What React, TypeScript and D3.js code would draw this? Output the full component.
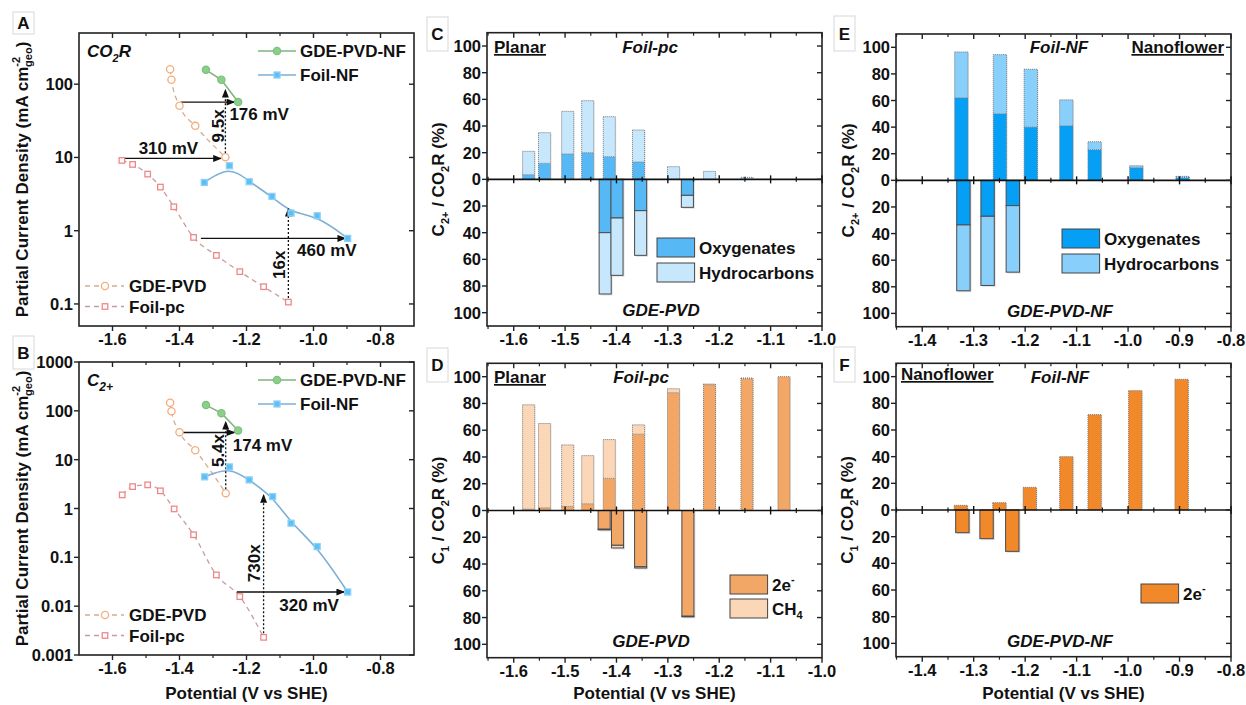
import * as d3 from "d3";

const FONT = "'Liberation Sans', Arial, Helvetica, sans-serif";

type Pt = { v: number; j: number };
type Arrow = { v1: number; j1: number; v2: number; j2: number; dotted?: boolean };
type Note = { t: string; v: number; j: number; rot?: boolean; anchor?: string };
type Bar = { v: number; a: number; b: number };

// ---------- A : CO2R partial current density ----------
const aGdePvd: Pt[] = [
  { v: -1.428, j: 160 }, { v: -1.424, j: 115 }, { v: -1.4, j: 50.7 }, { v: -1.353, j: 27 }, { v: -1.263, j: 10.1 },
];
const aGdePvdNf: Pt[] = [{ v: -1.321, j: 157 }, { v: -1.275, j: 115 }, { v: -1.225, j: 57 }];
const aFoilNf: Pt[] = [
  { v: -1.326, j: 4.56 }, { v: -1.251, j: 7.7 }, { v: -1.192, j: 4.66 }, { v: -1.124, j: 2.94 },
  { v: -1.067, j: 1.74 }, { v: -0.989, j: 1.6 }, { v: -0.898, j: 0.785 },
];
const aFoilPc: Pt[] = [
  { v: -1.572, j: 9.1 }, { v: -1.54, j: 8.03 }, { v: -1.495, j: 5.93 }, { v: -1.457, j: 3.94 }, { v: -1.417, j: 2.12 },
  { v: -1.358, j: 0.81 }, { v: -1.29, j: 0.46 }, { v: -1.22, j: 0.276 }, { v: -1.149, j: 0.172 }, { v: -1.075, j: 0.106 },
];
const aArrows: Arrow[] = [
  { v1: -1.396, j1: 57, v2: -1.236, j2: 57 },
  { v1: -1.565, j1: 9.7, v2: -1.276, j2: 9.7 },
  { v1: -1.336, j1: 0.785, v2: -0.905, j2: 0.785 },
  { v1: -1.263, j1: 10.1, v2: -1.263, j2: 84, dotted: true },
  { v1: -1.075, j1: 0.106, v2: -1.075, j2: 2.0, dotted: true },
];
const aNotes: Note[] = [
  { t: "9.5x", v: -1.286, j: 27, rot: true },
  { t: "176 mV", v: -1.251, j: 32.6, anchor: "start" },
  { t: "310 mV", v: -1.433, j: 11.2 },
  { t: "16x", v: -1.104, j: 0.343, rot: true },
  { t: "460 mV", v: -1.049, j: 0.447, anchor: "start" },
];

// ---------- B : C2+ partial current density ----------
const bGdePvd: Pt[] = [
  { v: -1.428, j: 146 }, { v: -1.424, j: 98 }, { v: -1.4, j: 36.6 }, { v: -1.353, j: 15.6 }, { v: -1.262, j: 2.06 },
];
const bGdePvdNf: Pt[] = [{ v: -1.321, j: 131 }, { v: -1.275, j: 89.6 }, { v: -1.225, j: 39.5 }];
const bFoilNf: Pt[] = [
  { v: -1.325, j: 4.45 }, { v: -1.251, j: 7.1 }, { v: -1.192, j: 3.85 }, { v: -1.122, j: 1.75 },
  { v: -1.067, j: 0.5 }, { v: -0.989, j: 0.166 }, { v: -0.898, j: 0.0195 },
];
const bFoilPc: Pt[] = [
  { v: -1.571, j: 1.9 }, { v: -1.54, j: 2.81 }, { v: -1.495, j: 3.05 }, { v: -1.457, j: 2.3 }, { v: -1.416, j: 0.98 },
  { v: -1.358, j: 0.29 }, { v: -1.29, j: 0.0436 }, { v: -1.22, j: 0.0157 }, { v: -1.149, j: 0.0023 },
];
const bArrows: Arrow[] = [
  { v1: -1.396, j1: 36, v2: -1.236, j2: 36 },
  { v1: -1.229, j1: 0.0195, v2: -0.908, j2: 0.0195 },
  { v1: -1.262, j1: 2.06, v2: -1.262, j2: 60, dotted: true },
  { v1: -1.149, j1: 0.0023, v2: -1.149, j2: 1.9, dotted: true },
];
const bNotes: Note[] = [
  { t: "5.4x", v: -1.286, j: 15.4, rot: true },
  { t: "174 mV", v: -1.241, j: 15.4, anchor: "start" },
  { t: "730x", v: -1.177, j: 0.0755, rot: true },
  { t: "320 mV", v: -1.102, j: 0.0081, anchor: "start" },
];

// ---------- C : C2+ selectivity, planar (a = oxygenates, b = hydrocarbons) ----------
const cFoilPc: Bar[] = [
  { v: -1.571, a: 3.5, b: 17.5 }, { v: -1.54, a: 12, b: 23 }, { v: -1.495, a: 19, b: 32 },
  { v: -1.456, a: 20, b: 39 }, { v: -1.414, a: 17, b: 30 }, { v: -1.357, a: 13, b: 24 },
  { v: -1.289, a: 0, b: 9.5 }, { v: -1.219, a: 0, b: 6 }, { v: -1.146, a: 0, b: 1.5 },
];
const cGdePvd: Bar[] = [
  { v: -1.422, a: 40, b: 46 }, { v: -1.399, a: 29, b: 43 }, { v: -1.353, a: 23.5, b: 33.5 }, { v: -1.262, a: 12, b: 9 },
];

// ---------- D : C1 selectivity, planar (a = 2e-, b = CH4) ----------
const dFoilPc: Bar[] = [
  { v: -1.571, a: 1, b: 78 }, { v: -1.54, a: 2, b: 63 }, { v: -1.495, a: 3, b: 46 }, { v: -1.456, a: 5, b: 36 },
  { v: -1.414, a: 24, b: 29 }, { v: -1.357, a: 57, b: 7 }, { v: -1.289, a: 88, b: 3 }, { v: -1.219, a: 94, b: 0.5 },
  { v: -1.146, a: 98.5, b: 0.5 }, { v: -1.074, a: 100, b: 0 },
];
const dGdePvd: Bar[] = [
  { v: -1.424, a: 14, b: 0.5 }, { v: -1.398, a: 26, b: 2 }, { v: -1.353, a: 42, b: 1 }, { v: -1.261, a: 79, b: 0.5 },
];

// ---------- E : C2+ selectivity, nanoflower ----------
const eFoilNf: Bar[] = [
  { v: -1.324, a: 62, b: 34.5 }, { v: -1.249, a: 50, b: 44.5 }, { v: -1.189, a: 40, b: 43.5 },
  { v: -1.12, a: 41, b: 19.5 }, { v: -1.065, a: 23, b: 6 }, { v: -0.984, a: 9.5, b: 1.5 }, { v: -0.894, a: 2, b: 1 },
];
const eGdePvdNf: Bar[] = [{ v: -1.32, a: 33.5, b: 49.5 }, { v: -1.273, a: 27, b: 52 }, { v: -1.224, a: 19, b: 50 }];

// ---------- F : C1 selectivity, nanoflower ----------
const fFoilNf: Bar[] = [
  { v: -1.325, a: 3.5, b: 0 }, { v: -1.25, a: 5.5, b: 0 }, { v: -1.191, a: 17, b: 0 }, { v: -1.12, a: 40, b: 0 },
  { v: -1.065, a: 71.5, b: 0 }, { v: -0.986, a: 89.5, b: 0 }, { v: -0.896, a: 98, b: 0 },
];
const fGdePvdNf: Bar[] = [{ v: -1.322, a: 17, b: 0 }, { v: -1.275, a: 21.5, b: 0 }, { v: -1.225, a: 31, b: 0 }];

const fmtV = (v: number) => (v < 0 ? "-" : "") + Math.abs(v).toFixed(1);
const INK = "#111";

function Frame({ x0, x1, y0, y1 }: { x0: number; x1: number; y0: number; y1: number }) {
  return <rect x={x0} y={y0} width={x1 - x0} height={y1 - y0} fill="none" stroke="#222" strokeWidth={1.6} />;
}

function PanelTag({ x, y, w, h, t }: { x: number; y: number; w: number; h: number; t: string }) {
  return (
    <g>
      <rect x={x} y={y} width={w} height={h} fill="#fff" stroke="#d8d8d8" strokeWidth={1} />
      <text x={x + w / 2} y={y + h / 2 + 6} textAnchor="middle" fontSize={17} fontWeight="bold" fill={INK}>{t}</text>
    </g>
  );
}

function XAxis({ x, y0, y1, majors, minors, title }: any) {
  return (
    <g>
      {majors.map((v: number) => (
        <g key={"M" + v}>
          <line x1={x(v)} x2={x(v)} y1={y1} y2={y1 + 5} stroke="#222" strokeWidth={1.4} />
          <line x1={x(v)} x2={x(v)} y1={y0} y2={y0 + 5} stroke="#222" strokeWidth={1.4} />
          <text x={x(v)} y={y1 + 19} textAnchor="middle" fontSize={16.5} fontWeight="bold" fill={INK}>{fmtV(v)}</text>
        </g>
      ))}
      {minors.map((v: number) => (
        <g key={"m" + v}>
          <line x1={x(v)} x2={x(v)} y1={y1} y2={y1 + 3} stroke="#222" strokeWidth={1.2} />
          <line x1={x(v)} x2={x(v)} y1={y0} y2={y0 + 3} stroke="#222" strokeWidth={1.2} />
        </g>
      ))}
      {title && (
        <text x={(x.range()[0] + x.range()[1]) / 2} y={699} textAnchor="middle" fontSize={17} fontWeight="bold" fill={INK}>
          Potential (V vs SHE)
        </text>
      )}
    </g>
  );
}

function LogPanel({ top, bottom, domain, ticks, gdePvd, gdePvdNf, foilNf, foilPc, arrows, notes, tag, kind, xTitle }: any) {
  const x = d3.scaleLinear().domain([-1.7, -0.7]).range([79, 414]);
  const y = d3.scaleLog().domain(domain).range([bottom, top]);
  const mono = d3.line<Pt>().x((d) => x(d.v)).y((d) => y(d.j)).curve(d3.curveMonotoneX);
  const basis = d3.line<Pt>().x((d) => x(d.v)).y((d) => y(d.j)).curve(d3.curveBasis);
  const lin = d3.line<Pt>().x((d) => x(d.v)).y((d) => y(d.j));
  const cOr = "#f3ae7c", cOrL = "#d4ad8e", cPk = "#ee8888", cPkL = "#c89c9c";
  const cGr = "#8ccf8c", cGrL = "#7fb47f", cBl = "#5cbff6", cBlL = "#7eafd6";
  const circ = (cx: number, cy: number, fill: string, stroke: string, k: string) => (
    <circle key={k} cx={cx} cy={cy} r={3.6} fill={fill} stroke={stroke} strokeWidth={1.3} />
  );
  const sq = (cx: number, cy: number, fill: string, stroke: string, k: string, s = 6) => (
    <rect key={k} x={cx - s / 2} y={cy - s / 2} width={s} height={s} fill={fill} stroke={stroke} strokeWidth={1.3} />
  );
  const lt1 = top + 18, lt2 = top + 42, lb1 = bottom - 40, lb2 = bottom - 19.5;
  return (
    <g>
      <PanelTag {...tag} />
      <Frame x0={79} x1={414} y0={top} y1={bottom} />
      {ticks.map((t: number) => (
        <g key={t}>
          <line x1={74} x2={79} y1={y(t)} y2={y(t)} stroke="#222" strokeWidth={1.4} />
          <line x1={409} x2={414} y1={y(t)} y2={y(t)} stroke="#222" strokeWidth={1.4} />
          <text x={73} y={y(t) + 6} textAnchor="end" fontSize={16.5} fontWeight="bold" fill={INK}>{d3.format("~g")(t)}</text>
        </g>
      ))}
      <XAxis x={x} y0={top} y1={bottom} majors={[-1.6, -1.4, -1.2, -1.0, -0.8]} minors={[-1.5, -1.3, -1.1, -0.9]} title={xTitle} />
      <text transform={`translate(28,${(top + bottom) / 2}) rotate(-90)`} textAnchor="middle" fontSize={17} fontWeight="bold" fill={INK}>
        Partial Current Density (mA cm
        <tspan fontSize={11} dy={-8}>-2</tspan>
        <tspan fontSize={11} dx={-10} dy={12}>geo</tspan>
        <tspan dy={-4}>)</tspan>
      </text>
      {kind === "co2r" ? (
        <text x={87} y={top + 24} fontSize={17} fontWeight="bold" fontStyle="italic" fill={INK}>
          CO<tspan fontSize={11} dy={5}>2</tspan><tspan dy={-5}>R</tspan>
        </text>
      ) : (
        <text x={87} y={top + 24} fontSize={17} fontWeight="bold" fontStyle="italic" fill={INK}>
          C<tspan fontSize={12} dy={5}>2+</tspan>
        </text>
      )}
      <path d={mono(gdePvd) || ""} fill="none" stroke={cOrL} strokeWidth={1.3} strokeDasharray="5,4" />
      <path d={mono(foilPc) || ""} fill="none" stroke={cPkL} strokeWidth={1.3} strokeDasharray="5,4" />
      <path d={basis(foilNf) || ""} fill="none" stroke={cBlL} strokeWidth={1.6} />
      <path d={lin(gdePvdNf) || ""} fill="none" stroke={cGrL} strokeWidth={1.6} />
      {arrows.map((a: Arrow, i: number) => (
        <line key={"ar" + i} x1={x(a.v1)} y1={y(a.j1)} x2={x(a.v2)} y2={y(a.j2)} stroke="#111" strokeWidth={1.3}
          strokeDasharray={a.dotted ? "2,2" : undefined} markerEnd="url(#arrowHead)" />
      ))}
      {gdePvd.map((d: Pt, i: number) => circ(x(d.v), y(d.j), "#fff", cOr, "o" + i))}
      {foilPc.map((d: Pt, i: number) => sq(x(d.v), y(d.j), "#fff", cPk, "p" + i, 5.5))}
      {foilNf.map((d: Pt, i: number) => sq(x(d.v), y(d.j), cBl, "#8fd0f8", "b" + i))}
      {gdePvdNf.map((d: Pt, i: number) => circ(x(d.v), y(d.j), cGr, "#7cc27c", "g" + i))}
      {notes.map((n: Note, i: number) =>
        n.rot ? (
          <text key={"n" + i} transform={`translate(${x(n.v)},${y(n.j)}) rotate(-90)`} textAnchor="middle" dy={6}
            fontSize={17} fontWeight="bold" fill={INK}>{n.t}</text>
        ) : (
          <text key={"n" + i} x={x(n.v)} y={y(n.j)} textAnchor={n.anchor || "middle"} fontSize={17} fontWeight="bold" fill={INK}>{n.t}</text>
        )
      )}
      {/* legends */}
      <line x1={258} x2={296} y1={lt1} y2={lt1} stroke={cGrL} strokeWidth={1.6} />
      {circ(277, lt1, cGr, "#7cc27c", "lg")}
      <text x={300} y={lt1 + 6} fontSize={17} fontWeight="bold" fill={INK}>GDE-PVD-NF</text>
      <line x1={258} x2={296} y1={lt2} y2={lt2} stroke={cBlL} strokeWidth={1.6} />
      {sq(277, lt2, cBl, "#8fd0f8", "lb")}
      <text x={300} y={lt2 + 6} fontSize={17} fontWeight="bold" fill={INK}>Foil-NF</text>
      <line x1={85} x2={124} y1={lb1} y2={lb1} stroke={cOrL} strokeWidth={1.3} strokeDasharray="5,4" />
      {circ(105, lb1, "#fff", cOr, "lo")}
      <text x={129} y={lb1 + 6} fontSize={17} fontWeight="bold" fill={INK}>GDE-PVD</text>
      <line x1={85} x2={124} y1={lb2} y2={lb2} stroke={cPkL} strokeWidth={1.3} strokeDasharray="5,4" />
      {sq(105, lb2, "#fff", cPk, "lp", 5.5)}
      <text x={129} y={lb2 + 6} fontSize={17} fontWeight="bold" fill={INK}>Foil-pc</text>
    </g>
  );
}

function BarPanel({ top, bottom, xDomain, xRange, majors, minors, up, down, colA, colB, barW, tag, yTitleX, kind,
  texts, legend, xTitle }: any) {
  const x = d3.scaleLinear().domain(xDomain).range(xRange);
  const y = d3.scaleLinear().domain([-110, 110]).range([bottom, top]);
  const [x0, x1] = xRange;
  const w = x(xDomain[0] + barW) - x(xDomain[0]);
  const yt = d3.range(-100, 101, 20);
  return (
    <g>
      <PanelTag {...tag} />
      {up.map((d: Bar, i: number) => (
        <g key={"u" + i}>
          <rect x={x(d.v) - w / 2 + 1} y={y(d.a + d.b) + 1} width={w} height={y(0) - y(d.a + d.b) - 1} fill="#dcdcdc" opacity={0.5} />
          <rect x={x(d.v) - w / 2} y={y(d.a)} width={w} height={y(0) - y(d.a)} fill={colA} />
          <rect x={x(d.v) - w / 2} y={y(d.a + d.b)} width={w} height={y(d.a) - y(d.a + d.b)} fill={colB} />
          <rect x={x(d.v) - w / 2} y={y(d.a + d.b)} width={w} height={y(0) - y(d.a + d.b)} fill="none"
            stroke="#777" strokeWidth={1} strokeDasharray="1,1" />
          {d.a > 0 && d.b > 0 && (
            <line x1={x(d.v) - w / 2} x2={x(d.v) + w / 2} y1={y(d.a)} y2={y(d.a)} stroke="#777" strokeWidth={1} strokeDasharray="1,1" />
          )}
        </g>
      ))}
      {down.map((d: Bar, i: number) => (
        <g key={"d" + i}>
          <rect x={x(d.v) - w / 2 + 1.5} y={y(0)} width={w} height={y(-(d.a + d.b)) - y(0) + 1.5} fill="#d0d0d0" opacity={0.6} />
          <rect x={x(d.v) - w / 2} y={y(0)} width={w} height={y(-d.a) - y(0)} fill={colA} stroke="#4a4a4a" strokeWidth={1} />
          {d.b > 0 && (
            <rect x={x(d.v) - w / 2} y={y(-d.a)} width={w} height={y(-(d.a + d.b)) - y(-d.a)} fill={colB} stroke="#4a4a4a" strokeWidth={1} />
          )}
        </g>
      ))}
      <Frame x0={x0} x1={x1} y0={top} y1={bottom} />
      <line x1={x0} x2={x1} y1={y(0)} y2={y(0)} stroke="#111" strokeWidth={1.6} />
      {majors.map((v: number) => (
        <line key={"z" + v} x1={x(v)} x2={x(v)} y1={y(0) - 4} y2={y(0) + 4} stroke="#111" strokeWidth={1.4} />
      ))}
      {minors.map((v: number) => (
        <line key={"zm" + v} x1={x(v)} x2={x(v)} y1={y(0) - 2.5} y2={y(0) + 2.5} stroke="#111" strokeWidth={1.2} />
      ))}
      {yt.map((t: number) => (
        <g key={"y" + t}>
          <line x1={x0 - 5} x2={x0} y1={y(t)} y2={y(t)} stroke="#222" strokeWidth={1.4} />
          <line x1={x1 - 5} x2={x1} y1={y(t)} y2={y(t)} stroke="#222" strokeWidth={1.4} />
          <text x={x0 - 6} y={y(t) + 6} textAnchor="end" fontSize={16.5} fontWeight="bold" fill={INK}>{Math.abs(t)}</text>
        </g>
      ))}
      <XAxis x={x} y0={top} y1={bottom} majors={majors} minors={minors} title={xTitle} />
      <text transform={`translate(${yTitleX},${(top + bottom) / 2}) rotate(-90)`} textAnchor="middle" fontSize={17} fontWeight="bold" fill={INK}>
        C<tspan fontSize={11} dy={5}>{kind === "c2" ? "2+" : "1"}</tspan>
        <tspan dy={-5}> / CO</tspan><tspan fontSize={11} dy={5}>2</tspan><tspan dy={-5}>R (%)</tspan>
      </text>
      {texts.map((t: any, i: number) => (
        <text key={"t" + i} x={t.x} y={t.y} textAnchor={t.anchor || "middle"} fontSize={17} fontWeight="bold"
          fontStyle={t.italic ? "italic" : "normal"} textDecoration={t.underline ? "underline" : undefined} fill={INK}>{t.t}</text>
      ))}
      {legend.map((l: any, i: number) => (
        <g key={"l" + i}>
          <rect x={l.x} y={l.y} width={37.6} height={19} fill={l.c} stroke="#444" strokeWidth={1} />
          <text x={l.x + 42} y={l.y + 16} fontSize={17} fontWeight="bold" fill={INK}>
            {l.t}
            {l.sup && <tspan fontSize={11} dy={-8}>{l.sup}</tspan>}
            {l.sub && <tspan fontSize={11} dy={4}>{l.sub}</tspan>}
          </text>
        </g>
      ))}
    </g>
  );
}

export default function App() {
  const cdMaj = d3.range(-16, -9).map((d) => d / 10);
  const cdMin = d3.range(-33, -19, 2).map((d) => d / 20);
  const efMaj = d3.range(-14, -7).map((d) => d / 10);
  const efMin = d3.range(-29, -15, 2).map((d) => d / 20);
  const cC = { a: "#56b9f6", b: "#c6e7fc" };
  const cE = { a: "#05a0f5", b: "#88cffb" };
  const cD = { a: "#f3a766", b: "#fbd6b7" };
  const cF = "#f1892b";
  return (
    <svg width={1246} height={705} style={{ position: "absolute", left: 0, top: 0, background: "#fff" }} fontFamily={FONT}>
      <defs>
        <marker id="arrowHead" viewBox="0 0 10 8" refX={9} refY={4} markerWidth={9} markerHeight={7} markerUnits="userSpaceOnUse" orient="auto">
          <path d="M0,0 L10,4 L0,8 Z" fill="#111" />
        </marker>
      </defs>
      <rect width={1246} height={705} fill="#fff" />
      <LogPanel top={33} bottom={326} domain={[0.05, 500]} ticks={[0.1, 1, 10, 100]} gdePvd={aGdePvd} gdePvdNf={aGdePvdNf}
        foilNf={aFoilNf} foilPc={aFoilPc} arrows={aArrows} notes={aNotes} kind="co2r" xTitle={false}
        tag={{ x: 13, y: 12, w: 21, h: 22, t: "A" }} />
      <LogPanel top={362} bottom={655} domain={[0.001, 1000]} ticks={[0.001, 0.01, 0.1, 1, 10, 100, 1000]} gdePvd={bGdePvd}
        gdePvdNf={bGdePvdNf} foilNf={bFoilNf} foilPc={bFoilPc} arrows={bArrows} notes={bNotes} kind="c2" xTitle={true}
        tag={{ x: 13, y: 336, w: 21, h: 33, t: "B" }} />
      <BarPanel top={32.7} bottom={326} xDomain={[-1.652, -1.0]} xRange={[487, 822]} majors={cdMaj} minors={cdMin}
        up={cFoilPc} down={cGdePvd} colA={cC.a} colB={cC.b} barW={0.0235} kind="c2" yTitleX={444} xTitle={false}
        tag={{ x: 427, y: 17, w: 21, h: 34, t: "C" }}
        texts={[
          { t: "Planar", x: 494, y: 53, anchor: "start", underline: true },
          { t: "Foil-pc", x: 650, y: 53, italic: true },
          { t: "GDE-PVD", x: 661, y: 316, italic: true },
        ]}
        legend={[{ x: 657, y: 238, c: cC.a, t: "Oxygenates" }, { x: 657, y: 263, c: cC.b, t: "Hydrocarbons" }]} />
      <BarPanel top={363.3} bottom={657.7} xDomain={[-1.652, -1.0]} xRange={[487, 822]} majors={cdMaj} minors={cdMin}
        up={dFoilPc} down={dGdePvd} colA={cD.a} colB={cD.b} barW={0.0235} kind="c1" yTitleX={444} xTitle={true}
        tag={{ x: 427, y: 348, w: 21, h: 34, t: "D" }}
        texts={[
          { t: "Planar", x: 494, y: 383, anchor: "start", underline: true },
          { t: "Foil-pc", x: 641, y: 383, italic: true },
          { t: "GDE-PVD", x: 651, y: 647, italic: true },
        ]}
        legend={[{ x: 730, y: 575, c: cD.a, t: "2e", sup: "-" }, { x: 730, y: 599, c: cD.b, t: "CH", sub: "4" }]} />
      <BarPanel top={34} bottom={326.7} xDomain={[-1.451, -0.8]} xRange={[896, 1231]} majors={efMaj} minors={efMin}
        up={eFoilNf} down={eGdePvdNf} colA={cE.a} colB={cE.b} barW={0.026} kind="c2" yTitleX={854} xTitle={false}
        tag={{ x: 834, y: 16, w: 21, h: 35, t: "E" }}
        texts={[
          { t: "Foil-NF", x: 1059, y: 53, italic: true },
          { t: "Nanoflower", x: 1224, y: 53, anchor: "end", underline: true },
          { t: "GDE-PVD-NF", x: 1060, y: 317, italic: true },
        ]}
        legend={[{ x: 1062, y: 229, c: cE.a, t: "Oxygenates" }, { x: 1062, y: 254, c: cE.b, t: "Hydrocarbons" }]} />
      <BarPanel top={363.3} bottom={656.7} xDomain={[-1.451, -0.8]} xRange={[896, 1231]} majors={efMaj} minors={efMin}
        up={fFoilNf} down={fGdePvdNf} colA={cF} colB={cF} barW={0.026} kind="c1" yTitleX={853} xTitle={true}
        tag={{ x: 834, y: 347, w: 21, h: 35, t: "F" }}
        texts={[
          { t: "Nanoflower", x: 901, y: 380, anchor: "start", underline: true },
          { t: "Foil-NF", x: 1060, y: 383, italic: true },
          { t: "GDE-PVD-NF", x: 1060, y: 647, italic: true },
        ]}
        legend={[{ x: 1141, y: 584, c: cF, t: "2e", sup: "-" }]} />
    </svg>
  );
}
